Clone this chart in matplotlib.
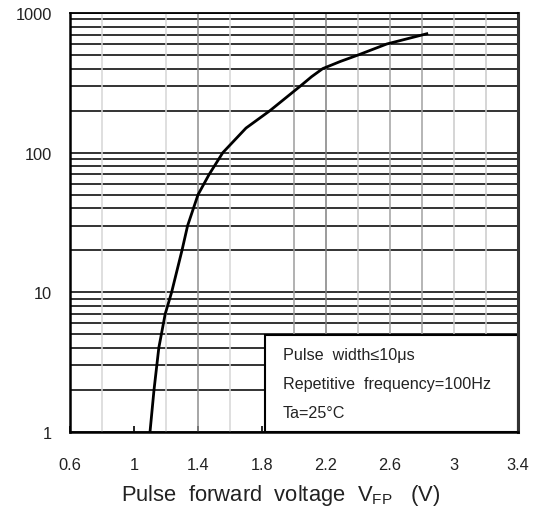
import matplotlib
matplotlib.use("Agg")
import matplotlib.pyplot as plt
from matplotlib.patches import Rectangle

plt.rcParams["font.family"] = ["Liberation Sans", "DejaVu Sans"]
plt.rcParams["mathtext.default"] = "regular"

# Pulse forward voltage (V) vs pulse forward current (mA)
voltage = [1.10, 1.125, 1.155, 1.195, 1.235, 1.30, 1.335, 1.40, 1.47, 1.555,
           1.70, 1.85, 2.04, 2.11, 2.18, 2.29, 2.40, 2.58, 2.83]
current = [1, 2, 4, 7, 10, 20, 30, 50, 70, 100,
           150, 200, 300, 350, 400, 450, 500, 600, 710]

x_ticks = [0.6, 1.0, 1.4, 1.8, 2.2, 2.6, 3.0, 3.4]
x_tick_labels = ["0.6", "1", "1.4", "1.8", "2.2", "2.6", "3", "3.4"]
y_ticks = [1, 10, 100, 1000]
y_tick_labels = ["1", "10", "100", "1000"]

# vertical guide lines (voltage) and their grey levels
v_lines = [0.8, 1.2, 1.4, 1.6, 2.0, 2.2, 2.4, 2.6, 2.8, 3.0, 3.2]
v_shades = ["#d6d6d6", "#d6d6d6", "#8e8e8e", "#d6d6d6", "#9c9c9c", "#808080",
            "#c2c2c2", "#a2a2a2", "#a2a2a2", "#cacaca", "#cacaca"]

notes = ["Pulse  width\u226410\u03bcs",
         "Repetitive  frequency=100Hz",
         "Ta=25\u00b0C"]

fig = plt.figure(figsize=(5.37, 5.10), dpi=100)
ax = fig.add_axes([70 / 537, 1 - 433 / 510, 448 / 537, 419 / 510])

ax.set_xscale("linear")
ax.set_yscale("log")
ax.set_xlim(0.6, 3.4)
ax.set_ylim(1, 1000)

# horizontal log grid
ax.grid(which="both", axis="y", color="#1a1a1a", linewidth=1.25, zorder=1)
for xv, c in zip(v_lines, v_shades):
    ax.axvline(xv, color=c, linewidth=1.1, zorder=0.9)
ax.set_axisbelow(True)

ax.plot(voltage, current, color="black", linewidth=2.0, zorder=4,
        solid_joinstyle="round")

# condition box in the lower right corner
box = Rectangle((0.4357, 0.0), 1 - 0.4357, 0.2315, transform=ax.transAxes,
                facecolor="white", edgecolor="black", linewidth=1.5, zorder=3)
ax.add_patch(box)
for txt, yy in zip(notes, [0.186, 0.1146, 0.0477]):
    ax.text(0.475, yy, txt, transform=ax.transAxes, fontsize=11.6,
            va="center", ha="left", color="#222222", zorder=5)

ax.set_xticks(x_ticks)
ax.set_xticklabels(x_tick_labels)
ax.set_yticks(y_ticks)
ax.set_yticklabels(y_tick_labels)
ax.yaxis.set_minor_formatter(matplotlib.ticker.NullFormatter())
ax.tick_params(axis="x", which="major", direction="in", length=4, width=1.2,
               labelsize=11.8, pad=18, colors="black", labelcolor="#222222")
ax.tick_params(axis="y", which="both", length=0, labelsize=11.8, pad=13,
               labelcolor="#222222")
ax.tick_params(axis="x", which="minor", length=0)

for side, lw, col in [("left", 1.8, "black"), ("bottom", 1.8, "black"),
                      ("top", 1.3, "black"), ("right", 2.2, "#333333")]:
    ax.spines[side].set_linewidth(lw)
    ax.spines[side].set_color(col)
    ax.spines[side].set_zorder(6)

ax.set_xlabel("Pulse  forward  voltage  V$_{FP}$   (V)", fontsize=15.8,
              color="#222222", va="center")
ax.xaxis.set_label_coords(0.471, -0.148)

fig.savefig("out.png", dpi=100, facecolor="white")
